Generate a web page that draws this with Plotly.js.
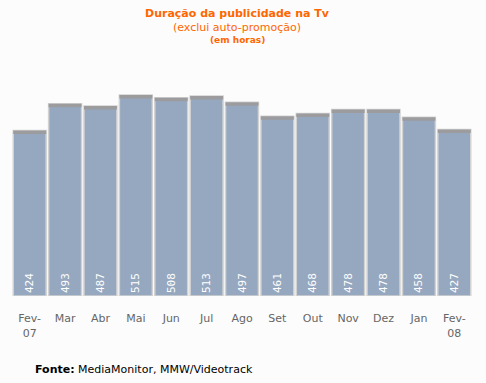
<!DOCTYPE html>
<html><head><meta charset="utf-8">
<script src="https://cdn.plot.ly/plotly-3.0.1.min.js"></script>
<style>html,body{margin:0;padding:0;background:#fcfcfc;}#c{width:486px;height:383px;}</style>
</head><body><div id="c"></div>
<script>
const months = ["Fev-<br>07","Mar","Abr","Mai","Jun","Jul","Ago","Set","Out","Nov","Dez","Jan","Fev-<br>08"];
const hours = [424,493,487,515,508,513,497,461,468,478,478,458,427];
const capSize = 9;

const main = {
  type:'bar', x: months, y: hours,
  marker:{color:'#95a8bf', line:{color:'#d2d2d2', width:1.5}},
  text: hours.map(String), textposition:'inside', insidetextanchor:'start', textangle:-90,
  textfont:{family:'DejaVu Sans Mono, monospace', size:11, color:'#ffffff'},
  hoverinfo:'none', cliponaxis:false
};
const cap = {
  type:'bar', x: months, y: hours.map(()=>capSize), base: hours.map(v=>v-capSize),
  marker:{color:'#9c9c9f', line:{width:0}},
  hoverinfo:'none'
};
const layout = {
  width:486, height:383, paper_bgcolor:'#fcfcfc', plot_bgcolor:'#fcfcfc',
  margin:{l:12, r:14, t:60, b:87},
  barmode:'overlay', bargap:0.07, showlegend:false,
  xaxis:{showgrid:false, zeroline:false, showline:false, ticks:'outside', ticklen:12, tickcolor:'rgba(0,0,0,0)',
    tickfont:{family:'DejaVu Sans, Verdana, sans-serif', size:11, color:'#666666'}},
  yaxis:{range:[0,605], visible:false, showgrid:false, zeroline:false},
  annotations:[
    {xref:'paper', yref:'paper', x:0.49, y:1, yshift:60-5, yanchor:'top', showarrow:false,
     text:'<b>Duração da publicidade na Tv</b>', font:{family:'DejaVu Sans, Verdana, sans-serif', size:11, color:'#ff6600'}},
    {xref:'paper', yref:'paper', x:0.49, y:1, yshift:60-19, yanchor:'top', showarrow:false,
     text:'(exclui auto-promoção)', font:{family:'DejaVu Sans, Verdana, sans-serif', size:11, color:'#ff6600'}},
    {xref:'paper', yref:'paper', x:0.49, y:1, yshift:60-33, yanchor:'top', showarrow:false,
     text:'<b>(em horas)</b>', font:{family:'DejaVu Sans, Verdana, sans-serif', size:9, color:'#ff6600'}},
    {xref:'paper', yref:'paper', x:0, xshift:21, y:0, yshift:-65, xanchor:'left', yanchor:'top', showarrow:false,
     text:'<b>Fonte:</b> MediaMonitor, MMW/Videotrack', font:{family:'DejaVu Sans, Verdana, sans-serif', size:11, color:'#000000'}}
  ]
};
Plotly.newPlot('c',[main,cap],layout,{displayModeBar:false, staticPlot:true});
</script></body></html>
